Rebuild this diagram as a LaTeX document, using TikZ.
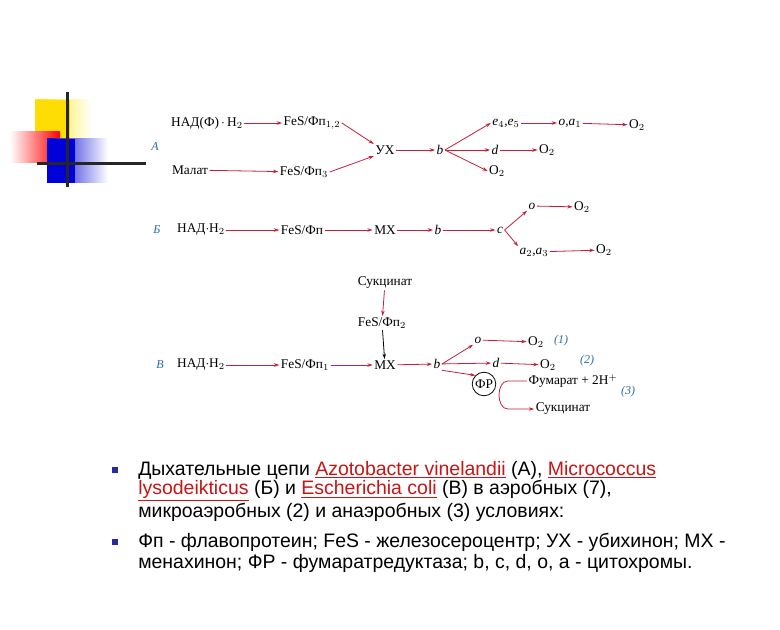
\documentclass[tikz,border=0pt]{standalone}
\usepackage{fontspec}
\setmainfont{Liberation Serif}
\newfontfamily\arialf{Liberation Sans}
\usetikzlibrary{arrows.meta}
\definecolor{arr}{RGB}{200,30,55}
\definecolor{lab}{RGB}{40,110,170}
\definecolor{lnk}{RGB}{200,20,20}
\definecolor{bul}{RGB}{40,40,160}
\begin{document}
\begin{tikzpicture}[x=0.75pt,y=-0.75pt,
  t/.style={inner sep=1pt,font=\fontsize{10}{12}\selectfont},
  lb/.style={inner sep=1pt,text=lab,font=\fontsize{9}{10}\selectfont\itshape},
  ar/.style={draw=arr,line width=0.6pt,-{Stealth[length=4pt,width=2.6pt]}},
  tx/.style={anchor=west,inner sep=0pt,font=\arialf\fontsize{14.6}{16}\selectfont},
  bu/.style={fill=bul,minimum size=5pt,inner sep=0pt}]
\useasboundingbox (0,0) rectangle (780,630);
% logo
\shade[left color=yellow!80!orange,right color=white] (35,100) rectangle (92,140);
\fill[yellow!80!orange] (35,100) rectangle (70,140);
\shade[left color=white,right color=red] (10,132) rectangle (60,163);
\shade[left color=blue!85!black,right color=white] (47,139) rectangle (108,183);
\fill[blue!85!black] (47,139) rectangle (75,183);
\fill[black!85] (65.5,92) rectangle (68.5,187);
\fill[black!85] (37,162.5) rectangle (146,165.5);
% Row A
\node[lb] (LA) at (155,147) {A};
\node[t] (a1) at (207,123) {НАД(Ф)\,$\cdot$\,H$_2$};
\node[t] (a2) at (312,123) {FeS/Фп$_{1,2}$};
\node[t] (a3) at (190,170) {Малат};
\node[t] (a4) at (304,172) {FeS/Фп$_3$};
\node[t] (ux) at (385,150) {УХ};
\node[t] (ab) at (440,150) {\itshape b};
\node[t] (ae) at (506,123) {\itshape e$_4$,e$_5$};
\node[t] (ao) at (570,123) {\itshape o,a$_1$};
\node[t] (ao2) at (637,125) {O$_2$};
\node[t] (ad) at (495,150) {\itshape d};
\node[t] (ad2) at (547,150) {O$_2$};
\node[t] (aO) at (497,171) {O$_2$};
\draw[ar] (a1) -- (a2);
\draw[ar] (a3) -- (a4);
\draw[ar] (a2.east) -- (ux.north west);
\draw[ar] (a4.east) -- (ux.south west);
\draw[ar] (ux) -- (ab);
\draw[ar] (ab.east) -- (ae.west);
\draw[ar] (ab) -- (ad);
\draw[ar] (ab.east) -- (aO.west);
\draw[ar] (ae) -- (ao);
\draw[ar] (ao) -- (ao2);
\draw[ar] (ad) -- (ad2);
% Row B
\node[lb] (LB) at (157,230) {Б};
\node[t] (b1) at (201,230) {НАД$\cdot$H$_2$};
\node[t] (b2) at (302,230) {FeS/Фп};
\node[t] (b3) at (385,230) {МХ};
\node[t] (b4) at (438,230) {\itshape b};
\node[t] (b5) at (500,230) {\itshape c};
\node[t] (b6) at (532,206) {\itshape o};
\node[t] (b7) at (582,207) {O$_2$};
\node[t] (b8) at (534,252) {\itshape a$_2$,a$_3$};
\node[t] (b9) at (604,250) {O$_2$};
\draw[ar] (b1) -- (b2);
\draw[ar] (b2) -- (b3);
\draw[ar] (b3) -- (b4);
\draw[ar] (b4) -- (b5);
\draw[ar] (b5.east) -- (b6.south west);
\draw[ar] (b5.east) -- (b8.north west);
\draw[ar] (b6) -- (b7);
\draw[ar] (b8) -- (b9);
% Row V
\node[lb] (LV) at (160,365) {В};
\node[t] (c0) at (385,283) {Сукцинат};
\node[t] (c1) at (382,323) {FeS/Фп$_2$};
\node[t] (v1) at (201,365) {НАД$\cdot$H$_2$};
\node[t] (v2) at (305,365) {FeS/Фп$_1$};
\node[t] (v3) at (385,365) {МХ};
\node[t] (v4) at (437,364) {\itshape b};
\node[t] (v5) at (478,340) {\itshape o};
\node[t] (v6) at (536,342) {O$_2$};
\node[lb] (n1) at (561,341) {(1)};
\node[t] (v7) at (496,363) {\itshape d};
\node[t] (v8) at (548,365) {O$_2$};
\node[lb] (n2) at (587,361) {(2)};
\node[t,draw,circle,inner sep=1pt,line width=0.6pt] (fr) at (484,384) {ФР};
\node[t] (fum) at (573,381) {Фумарат + 2H$^+$};
\node[lb] (n3) at (628,392) {(3)};
\node[t] (suk) at (563,409) {Сукцинат};
\coordinate (k1) at (508,381);
\coordinate (k2) at (508,409);
\draw[ar] (c0) -- (c1);
\draw[ar,draw=black] (c1) -- (v3);
\draw[ar] (v1) -- (v2);
\draw[ar] (v2) -- (v3);
\draw[ar] (v3) -- (v4);
\draw[ar] (v4.east) -- (v5.south west);
\draw[ar] (v4) -- (v7);
\draw[ar] (v4.south east) -- (fr.north west);
\draw[ar] (v5) -- (v6);
\draw[ar] (v7) -- (v8);
\draw[ar] (fum.west) -- (k1) .. controls (496,381) and (496,409) .. (k2) -- (suk.west);
% text
\node[bu] (q1) at (115,470) {};
\node[tx] (l1) at (138,470) {Дыхательные цепи \textcolor{lnk}{\underline{Azotobacter vinelandii}} (А), \textcolor{lnk}{\underline{Micrococcus}}};
\node[tx] (l2) at (138,491) {\textcolor{lnk}{\underline{lysodeikticus}} (Б) и \textcolor{lnk}{\underline{Escherichia coli}} (В) в аэробных (7),};
\node[tx] (l3) at (138,512) {микроаэробных (2) и анаэробных (3) условиях:};
\node[bu] (q2) at (115,542) {};
\node[tx] (l4) at (138,542) {Фп - флавопротеин; FeS - железосероцентр; УХ - убихинон; МХ -};
\node[tx] (l5) at (138,563) {менахинон; ФР - фумаратредуктаза; b, c, d, o, a - цитохромы.};
\end{tikzpicture}
\end{document}
